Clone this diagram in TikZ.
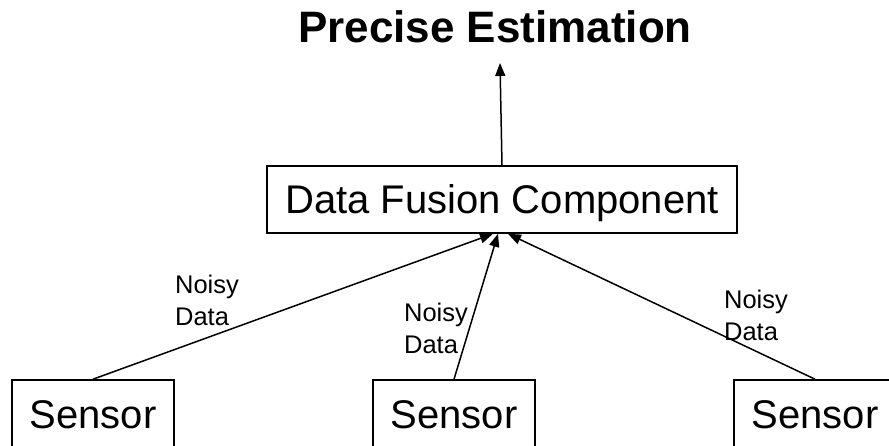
\documentclass[tikz,border=0pt]{standalone}
\usepackage{fontspec}
\setmainfont{Liberation Sans}
\usetikzlibrary{arrows.meta}
\tikzset{
	unit/.style={draw, line width=1.6pt, inner sep=0pt, text height=29pt, text depth=0pt, font=\fontsize{40}{48}\selectfont},
	noisy/.style={inner sep=0pt, align=left, font=\fontsize{25.5}{32}\selectfont},
	flow/.style={-{Triangle[length=13pt,width=10pt]}, line width=1.5pt}
}
\begin{document}
\begin{tikzpicture}[x=1pt,y=1pt]
			\clip (0,0) rectangle (889,445);
			\node[anchor=base, font=\bfseries\fontsize{44}{52}\selectfont] (est) at (495,402) {Precise Estimation};
			\node[unit, minimum width=470pt, minimum height=67pt] (df) at (502,245.5) {Data Fusion Component};
			\node[unit, minimum width=162pt, minimum height=67pt] (s1) at (93,31.5) {Sensor};
			\node[unit, minimum width=162pt, minimum height=67pt] (s2) at (454,31.5) {Sensor};
			\node[unit, minimum width=162pt, minimum height=67pt] (s3) at (815,31.5) {Sensor};
			\coordinate (top) at (500,382);
			\draw[flow] (df.north) -- (top);
			\draw[flow] (s1.north) -- ([xshift=-9pt]df.south);
			\draw[flow] (s2.north) -- ([xshift=-4pt]df.south);
			\draw[flow] (s3.north) -- ([xshift=6pt]df.south);
			\node[noisy] (n1) at (207,145) {Noisy\\Data};
			\node[noisy] (n2) at (436,117) {Noisy\\Data};
			\node[noisy] (n3) at (756,130) {Noisy\\Data};
		\end{tikzpicture}
\end{document}
